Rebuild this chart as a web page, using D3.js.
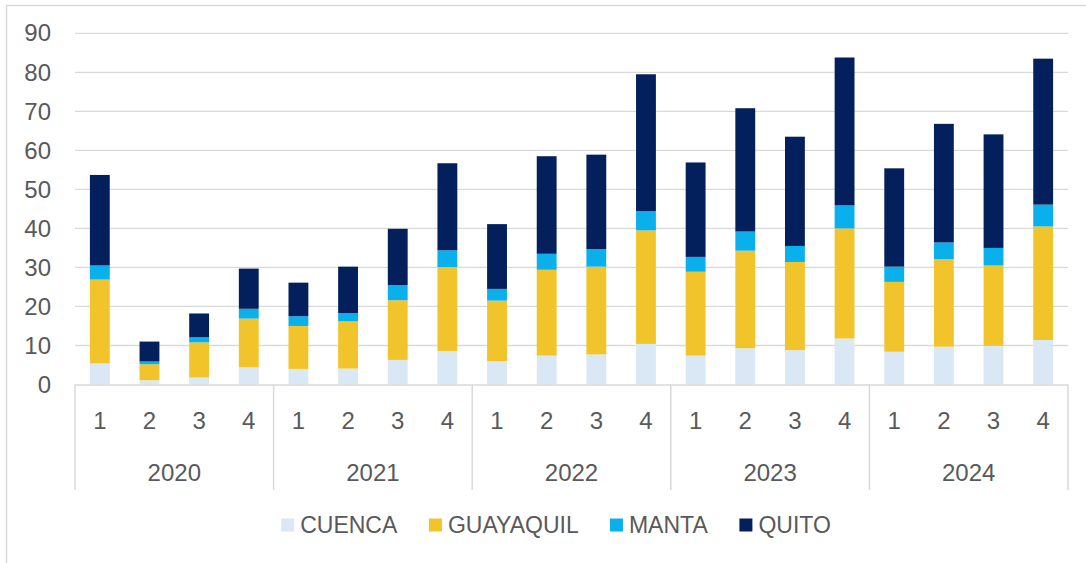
<!DOCTYPE html>
<html>
<head>
<meta charset="utf-8">
<script src="https://cdn.jsdelivr.net/npm/d3@7"></script>
<style>
  html, body { margin: 0; padding: 0; background: #ffffff; }
  svg { display: block; }
  text { font-family: "Liberation Sans", Arial, sans-serif; fill: #595959; }
</style>
</head>
<body>
<svg id="chart" width="1086" height="563"></svg>
<script>
const years = ["2020", "2021", "2022", "2023", "2024"];
const quarters = ["1", "2", "3", "4"];
const seriesNames = ["CUENCA", "GUAYAQUIL", "MANTA", "QUITO"];
const seriesColors = ["#dae7f5", "#f0c42a", "#0ab0ec", "#03205c"];
const yTicks = [0, 10, 20, 30, 40, 50, 60, 70, 80, 90];

const cuenca    = [5.4, 1.1, 1.8, 4.4,  4.0, 4.1, 6.3, 8.6,  6.0, 7.4, 7.7, 10.4,  7.4, 9.3, 8.8, 11.8,  8.4, 9.7, 9.9, 11.4];
const guayaquil = [21.5, 4.1, 9.0, 12.5, 11.0, 12.1, 15.3, 21.5, 15.5, 22.0, 22.5, 29.1, 21.5, 25.0, 22.6, 28.2, 17.9, 22.4, 20.6, 29.1];
const manta     = [3.6, 0.7, 1.3, 2.5,  2.5, 2.1, 3.9, 4.3,  3.0, 4.1, 4.5, 4.9,  3.8, 4.9, 4.1, 5.9,  3.9, 4.3, 4.5, 5.6];
const quito     = [23.2, 5.1, 6.1, 10.3, 8.6, 11.9, 14.4, 22.3, 16.6, 25.0, 24.2, 35.1, 24.2, 31.6, 28.0, 37.9, 25.2, 30.4, 29.1, 37.4];

// build table
const rows = [];
years.forEach((yr, yi) => {
  quarters.forEach((q, qi) => {
    const i = yi * 4 + qi;
    rows.push({ key: yr + "-" + q, year: yr, quarter: q,
      CUENCA: cuenca[i], GUAYAQUIL: guayaquil[i], MANTA: manta[i], QUITO: quito[i] });
  });
});

const svg = d3.select("#chart");
const plotLeft = 75, plotRight = 1068, plotTop = 33.3, plotBottom = 384.5;

// outer frame
svg.append("rect")
  .attr("x", 6.5).attr("y", 5.5).attr("width", 1200).attr("height", 700)
  .attr("fill", "none").attr("stroke", "#d9d9d9").attr("stroke-width", 1.5);

const x = d3.scaleBand().domain(rows.map(d => d.key))
  .range([plotLeft, plotRight]).paddingInner(0.6).paddingOuter(0.3);
const y = d3.scaleLinear().domain([0, 90]).range([plotBottom, plotTop]);
const color = d3.scaleOrdinal().domain(seriesNames).range(seriesColors);

// gridlines
svg.append("g").selectAll("line").data(yTicks.filter(t => t > 0)).join("line")
  .attr("x1", plotLeft).attr("x2", plotRight)
  .attr("y1", d => y(d)).attr("y2", d => y(d))
  .attr("stroke", "#d9d9d9").attr("stroke-width", 1.3);

// y axis labels
const yAxis = svg.append("g").attr("transform", `translate(${plotLeft - 24},0)`)
  .call(d3.axisLeft(y).tickValues(yTicks).tickSize(0).tickPadding(0));
yAxis.select(".domain").remove();
yAxis.selectAll("text").attr("font-size", 24).attr("fill", "#595959")
  .attr("font-family", "Liberation Sans, Arial, sans-serif");

// stacked bars
const stacked = d3.stack().keys(seriesNames)(rows);
svg.append("g").selectAll("g").data(stacked).join("g")
  .attr("fill", d => color(d.key))
  .selectAll("rect").data(d => d).join("rect")
  .attr("x", d => x(d.data.key))
  .attr("width", x.bandwidth())
  .attr("y", d => y(d[1]))
  .attr("height", d => y(d[0]) - y(d[1]));

// category axis line
svg.append("line").attr("x1", plotLeft).attr("x2", plotRight)
  .attr("y1", plotBottom + 0.5).attr("y2", plotBottom + 0.5)
  .attr("stroke", "#d9d9d9").attr("stroke-width", 1.5);

// quarter labels
svg.append("g").selectAll("text").data(rows).join("text")
  .attr("x", d => x(d.key) + x.bandwidth() / 2)
  .attr("y", 429)
  .attr("text-anchor", "middle").attr("font-size", 24)
  .text(d => d.quarter);

// year dividers and labels
const yearBounds = years.map(yr => {
  const ks = rows.filter(r => r.year === yr).map(r => r.key);
  const start = x(ks[0]) - x.step() * x.paddingOuter();
  const end = x(ks[ks.length - 1]) + x.bandwidth() + x.step() * x.paddingOuter();
  return { yr, start, end };
});
const dividerXs = [yearBounds[0].start].concat(yearBounds.map(b => b.end));
svg.append("g").selectAll("line").data(dividerXs).join("line")
  .attr("x1", d => d).attr("x2", d => d)
  .attr("y1", plotBottom).attr("y2", 490)
  .attr("stroke", "#d9d9d9").attr("stroke-width", 1.5);

svg.append("g").selectAll("text").data(yearBounds).join("text")
  .attr("x", d => (d.start + d.end) / 2)
  .attr("y", 481)
  .attr("text-anchor", "middle").attr("font-size", 24)
  .text(d => d.yr);

// legend
const legend = svg.append("g");
const items = legend.selectAll("g").data(seriesNames).join("g");
items.append("rect").attr("width", 13).attr("height", 13).attr("y", -14.5)
  .attr("fill", d => color(d));
items.append("text").attr("x", 19).attr("y", 0).attr("font-size", 23).text(d => d);
let cx = 0;
items.each(function () {
  const w = this.getBBox().width;
  d3.select(this).attr("transform", `translate(${cx},0)`);
  cx += w + 31;
});
const totalW = cx - 31;
legend.attr("transform", `translate(${556 - totalW / 2},533)`);
</script>
</body>
</html>
